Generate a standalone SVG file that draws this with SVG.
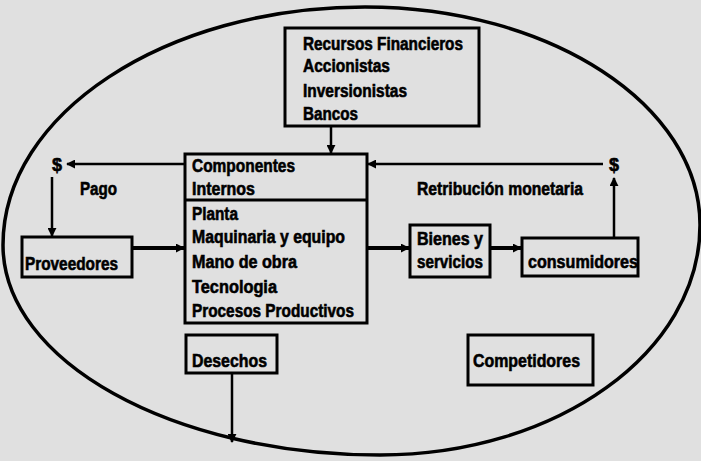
<svg xmlns="http://www.w3.org/2000/svg" width="701" height="461" viewBox="0 0 701 461">
<defs>
<style>
.bg{fill:#e0e0e0}
.box{fill:none;stroke:#000;stroke-width:3}
.t{font-family:"Liberation Sans",Arial,sans-serif;font-weight:bold;font-size:18px;fill:#000;stroke:#000;stroke-width:0.6}
.c{fill:none;stroke:#000;stroke-width:2.5}
.ct{fill:none;stroke:#000;stroke-width:4}
.oval{fill:none;stroke:#000;stroke-width:3.5}
</style>
<marker id="ah" viewBox="0 0 10 10" refX="9" refY="5" markerWidth="9" markerHeight="9" markerUnits="userSpaceOnUse" orient="auto">
<path d="M0,0 L10,5 L0,10 z" fill="#000"/>
</marker>
</defs>
<rect class="bg" x="0" y="0" width="701" height="461"/>
<path id="boundary" class="oval" d="M365,7 C550,7 700,105 700,225 C700,352 557,455 380,455 C172,455 3,361 3,245 C3,114 165,7 365,7 Z"/>

<g id="connectors">
<line class="c" x1="331" y1="126" x2="331" y2="153" marker-end="url(#ah)"/>
<line class="c" x1="185" y1="164" x2="67" y2="164" marker-end="url(#ah)"/>
<line class="c" x1="52" y1="177" x2="52" y2="236" marker-end="url(#ah)"/>
<line class="c" x1="614" y1="238" x2="614" y2="178" marker-end="url(#ah)"/>
<line class="c" x1="603" y1="164" x2="368" y2="164" marker-end="url(#ah)"/>
<line class="ct" x1="132" y1="248" x2="184" y2="248" marker-end="url(#ah)"/>
<line class="ct" x1="368" y1="248" x2="409" y2="248" marker-end="url(#ah)"/>
<line class="ct" x1="491" y1="248" x2="521" y2="248" marker-end="url(#ah)"/>
<line class="c" x1="232" y1="373" x2="232" y2="442" marker-end="url(#ah)"/>
</g>

<g id="dollar-left"><text class="t" x="52" y="171">$</text></g>
<g id="dollar-right"><text class="t" x="609" y="171">$</text></g>
<g id="label-pago"><text class="t" x="80" y="195" textLength="37" lengthAdjust="spacingAndGlyphs">Pago</text></g>
<g id="label-retribucion"><text class="t" x="417" y="195" textLength="166" lengthAdjust="spacingAndGlyphs">Retribución monetaria</text></g>

<g id="recursos">
<rect class="box" x="285" y="28" width="194" height="98"/>
<text class="t" x="303" y="50" textLength="160" lengthAdjust="spacingAndGlyphs">Recursos Financieros</text>
<text class="t" x="303" y="72" textLength="87" lengthAdjust="spacingAndGlyphs">Accionistas</text>
<text class="t" x="303" y="97" textLength="104" lengthAdjust="spacingAndGlyphs">Inversionistas</text>
<text class="t" x="303" y="120" textLength="55" lengthAdjust="spacingAndGlyphs">Bancos</text>
</g>

<g id="componentes">
<rect class="box" x="185" y="154" width="182" height="169"/>
<line class="box" x1="185" y1="200" x2="367" y2="200"/>
<text class="t" x="192" y="172" textLength="103" lengthAdjust="spacingAndGlyphs">Componentes</text>
<text class="t" x="192" y="195" textLength="63" lengthAdjust="spacingAndGlyphs">Internos</text>
<text class="t" x="192" y="220" textLength="46" lengthAdjust="spacingAndGlyphs">Planta</text>
<text class="t" x="192" y="243" textLength="153" lengthAdjust="spacingAndGlyphs">Maquinaria y equipo</text>
<text class="t" x="192" y="268" textLength="105" lengthAdjust="spacingAndGlyphs">Mano de obra</text>
<text class="t" x="192" y="293" textLength="85" lengthAdjust="spacingAndGlyphs">Tecnologia</text>
<text class="t" x="192" y="317" textLength="162" lengthAdjust="spacingAndGlyphs">Procesos Productivos</text>
</g>

<g id="proveedores">
<rect class="box" x="22" y="237" width="110" height="40"/>
<text class="t" x="25" y="270" textLength="93" lengthAdjust="spacingAndGlyphs">Proveedores</text>
</g>

<g id="bienes">
<rect class="box" x="410" y="225" width="80" height="52"/>
<text class="t" x="417" y="245" textLength="66" lengthAdjust="spacingAndGlyphs">Bienes y</text>
<text class="t" x="417" y="268" textLength="66" lengthAdjust="spacingAndGlyphs">servicios</text>
</g>

<g id="consumidores">
<rect class="box" x="522" y="238" width="116" height="38"/>
<text class="t" x="528" y="268" textLength="110" lengthAdjust="spacingAndGlyphs">consumidores</text>
</g>

<g id="desechos">
<rect class="box" x="186" y="335" width="91" height="38"/>
<text class="t" x="192" y="367" textLength="75" lengthAdjust="spacingAndGlyphs">Desechos</text>
</g>

<g id="competidores">
<rect class="box" x="468" y="335" width="125" height="50"/>
<text class="t" x="473" y="367" textLength="107" lengthAdjust="spacingAndGlyphs">Competidores</text>
</g>
</svg>
